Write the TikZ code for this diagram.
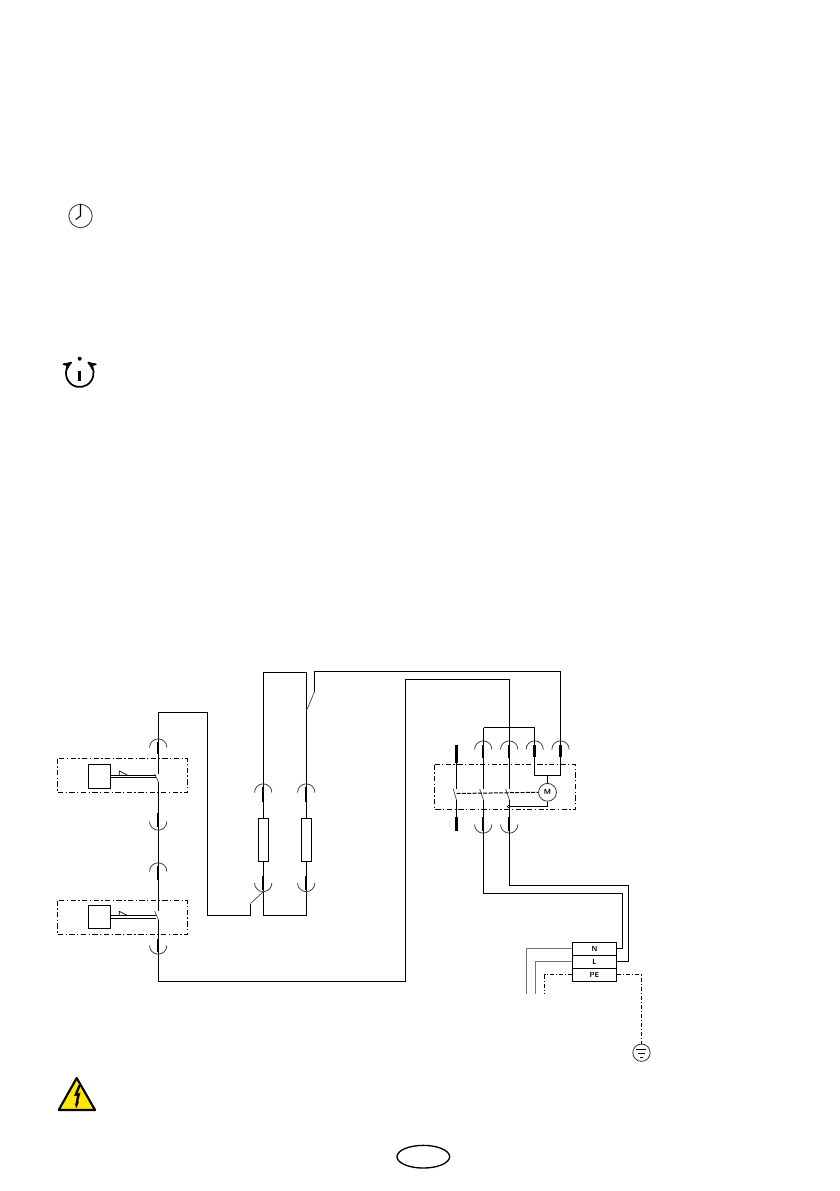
\documentclass[tikz,border=0pt]{standalone}
\usepackage{tikz}
\usetikzlibrary{arrows,shapes.geometric}
\begin{document}
\begin{tikzpicture}[x=0.75pt,y=-0.75pt,line join=miter,
	wire/.style={draw,line width=0.85pt},
	grey wire/.style={draw,line width=0.85pt,black!55},
	thin wire/.style={draw,line width=0.55pt,black!70},
	plug arc/.style={draw,line width=0.6pt,black!75},
	plug bar/.style={draw,line width=1.85pt},
	wide bar/.style={draw,line width=2.4pt},
	dash box/.style={draw,line width=0.8pt,dash pattern=on 4pt off 1.8pt on 1pt off 1.8pt},
	relay node/.style={draw,line width=0.8pt,inner sep=0pt,minimum width=16.8pt,minimum height=17.8pt},
	fuse node/.style={draw,line width=0.8pt,inner sep=0pt,minimum width=7.8pt,minimum height=32.2pt},
	term node/.style={draw,line width=0.8pt,inner sep=0pt,minimum width=33.3pt,minimum height=9.75pt,font=\fontsize{5.5}{5.5}\sffamily\bfseries},
	round node/.style={circle,draw,inner sep=0pt}]
	
	\useasboundingbox (0,0) rectangle (839,1191);
	
	% symbols beside the text
	\node[round node,line width=0.65pt,black!75,minimum size=17.5pt] (clock) at (80.5,216) {};
	\draw[line width=0.8pt] (80.5,204) -- (clock.center) -- (75.7,219.5);
	
	\coordinate (reset) at (79.7,373.3);
	\draw[line width=1.3pt,stealth'-stealth'] (reset) ++(55:10.3pt) arc[start angle=55,end angle=-235,radius=10.3pt];
	\draw[line width=1.9pt] (79.7,370.5) -- (79.7,381);
	\fill (79.7,358.7) circle (1.5pt);
	
	% left column with the two relays
	\coordinate (a1) at (158.5,712.5);
	\coordinate (a2) at (207.5,712.5);
	\coordinate (a3) at (207.5,915.5);
	\coordinate (a4) at (250.5,915.5);
	\coordinate (a5) at (250.5,903.5);
	\coordinate (a6) at (263.5,891.5);
	\coordinate (k1top) at (158.5,774);
	\coordinate (k1bot) at (158.5,782.3);
	\coordinate (k2top) at (158.5,911);
	\coordinate (k2bot) at (158.5,920);
	\coordinate (a7) at (158.5,981.5);
	\coordinate (a8) at (405.5,981.5);
	\coordinate (a9) at (405.5,679.5);
	\coordinate (a10) at (509.5,679.5);
	
	\draw[wire] (k1top) -- (a1) -- (a2) -- (a3) -- (a4) -- (a5);
	\draw[thin wire] (a5) -- (a6);
	\draw[wire] (k1bot) -- (k2top);
	\draw[wire] (k2bot) -- (a7) -- (a8) -- (a9) -- (a10);
	\draw[thin wire] (154.7,774) -- (k1bot);
	\draw[thin wire] (154.7,911) -- (k2bot);
	
	\draw[dash box] (57.5,758.5) rectangle (187.5,792.5);
	\draw[dash box] (57.5,900.5) rectangle (187.5,934.5);
	
	\node[relay node] (r1) at (99.5,776.5) {};
	\node[relay node] (r2) at (99.5,917) {};
	\draw[line width=0.55pt] (r1.east |- 0,775.3) -- (156,775.3);
	\draw[line width=0.55pt] (r1.east |- 0,777.5) -- (156,777.5);
	\draw[line width=0.55pt] (r2.east |- 0,915.7) -- (156,915.7);
	\draw[line width=0.55pt] (r2.east |- 0,918) -- (156,918);
	\draw[line width=0.5pt] (119.3,775) -- (119.3,771) -- (127.3,775);
	\draw[line width=0.5pt] (119.3,915.5) -- (119.3,911.3) -- (127.3,915.5);
	
	% the two fuses
	\node[fuse node] (f1) at (263.5,839.8) {};
	\node[fuse node] (f2) [right of=f1,node distance=32.25pt] {};
	
	\coordinate (b1) at (263.5,672.5);
	\coordinate (b2) at (306.5,672.5);
	\coordinate (b3) at (306.5,710.7);
	\coordinate (b4) at (314.5,691.7);
	\coordinate (b5) at (314.5,671.5);
	\coordinate (b6) at (560.5,671.5);
	\coordinate (b7) at (263.5,915.5);
	\coordinate (b8) at (306.5,915.5);
	
	\draw[wire] (f1.north) -- (b1) -- (b2) -- (f2.north);
	\draw[wire] (f1.south) -- (b7) -- (b8) -- (f2.south);
	\draw[thin wire] (b3) -- (b4);
	\draw[wire] (b4) -- (b5) -- (b6) -- (560.5,775.5);
	
	% plugs, opening downwards: x / arc centre / bar from / bar to
	\foreach \x/\y/\p/\q in {158.2/747.5/741.7/754,158.2/871.5/865.7/880,263.2/792.5/787.3/801.7,306.2/792.5/787.3/801.7,
		483.2/749.5/745/758.3,509.2/749.5/745/758.3}{
		\draw[plug arc] (\x,\y) ++(180:6.5pt) arc[start angle=180,end angle=0,radius=6.5pt];
		\draw[plug bar] (\x,\p) -- (\x,\q);
	}
	\foreach \x in {534.7,560.5}{
		\draw[plug arc] (\x,749.5) ++(180:6.5pt) arc[start angle=180,end angle=0,radius=6.5pt];
		\draw[wide bar] (\x,745) -- (\x,757.3);
	}
	% plugs, opening upwards
	\foreach \x/\y/\p/\q in {158.2/821.5/813.3/826.7,158.2/945.5/939.3/952.3,263.2/883/875.7/890,306.2/883/875.7/890,
		483.2/824.5/816.7/830.7,509.2/824.5/816.7/830.7}{
		\draw[plug arc] (\x,\y) ++(180:6.5pt) arc[start angle=180,end angle=360,radius=6.5pt];
		\draw[plug bar] (\x,\p) -- (\x,\q);
	}
	
	% right group with the motor
	\draw[dash box] (434.5,764.5) rectangle (575.5,809.5);
	\node[round node,line width=0.6pt,black!80,minimum size=13.4pt,text=black,font=\fontsize{5.5}{5.5}\sffamily\bfseries] (motor) at (547.5,792.3) {M};
	
	\coordinate (c1) at (456.5,789);
	\coordinate (c2) at (483.5,789);
	\coordinate (c3) at (509.5,789);
	\coordinate (d1) at (456.5,800);
	\coordinate (d2) at (483.5,800);
	\coordinate (d3) at (509.5,800);
	\coordinate (e2) at (483.5,893.5);
	\coordinate (e3) at (509.5,885.5);
	\coordinate (g2) at (622.5,893.5);
	\coordinate (g3) at (628.5,885.5);
	
	\draw[wire] (a10) -- (c3);
	\draw[wire] (483.5,727.5) -- (534.5,727.5);
	\draw[wire] (483.5,727.5) -- (c2);
	\draw[wire] (534.5,727.5) -- (534.5,775.5) -- (560.5,775.5);
	\draw[wire] (547.5,775.5) -- (motor.north);
	\draw[wire] (456.5,748) -- (c1);
	\draw[plug bar] (456.5,745) -- (456.5,763);
	\draw[thin wire] (453.3,789) -- (d1);
	\draw[wire] (d1) -- (456.5,825);
	\draw[plug bar] (456.5,816.7) -- (456.5,830.7);
	\draw[thin wire] (479.7,789) -- (d2);
	\draw[wire] (d2) -- (e2) -- (g2);
	\draw[thin wire] (505.7,789) -- (d3);
	\draw[wire] (d3) -- (e3) -- (g3);
	\draw[line width=0.75pt,dash pattern=on 3pt off 1pt] (456.5,793.5) -- (motor.west);
	\draw[wire] (motor.south) -- (547.5,806.5) -- (509.5,806.5);
	\draw[line width=0.4pt,fill=white] (508.5,806.5) circle (1pt);
	
	% terminal block
	\node[term node] (N) at (594.5,948.8) {N};
	\node[term node] (L) [below of=N,node distance=9.75pt] {L};
	\node[term node] (PE) [below of=L,node distance=9.75pt] {PE};
	
	\draw[wire] (g2) -- (622.5,948.8) -- (N.east);
	\draw[wire] (g3) -- (628.5,961.8) -- (L.east);
	\draw[grey wire] (N.west) -- (526.5,948.8) -- (526.5,994.3);
	\draw[grey wire] (L.west) -- (535.5,961.8) -- (535.5,994.3);
	\draw[wire,dash pattern=on 3pt off 1.5pt on 0.8pt off 1.5pt] (PE.west) -- (544.5,974.8) -- (544.5,994.3);
	
	\node[round node,line width=0.6pt,black!80,minimum size=13pt] (earth) at (641.5,1052.7) {};
	\draw[wire,dash pattern=on 3pt off 1.5pt on 0.8pt off 1.5pt] (PE.east) -- (641.5,974.8) -- (earth.north);
	\draw[line width=0.5pt] (636.3,1049.3) -- (646.3,1049.3);
	\draw[line width=0.5pt] (637.8,1053.3) -- (644.8,1053.3);
	\draw[line width=0.5pt] (639.8,1057) -- (642.8,1057);
	
	% warning sign
	\draw[line width=1.6pt,line join=round,fill=yellow!90!orange] (76.7,1078) -- (95,1110) -- (58.7,1110) -- cycle;
	\fill (78.5,1085) -- (74,1096) -- (77,1095.5) -- (75.5,1104) -- (74.5,1103.5) -- (76.5,1108) -- (79,1101.5) -- (78,1102) -- (80.5,1092.5) -- (77.5,1093.5) -- (81,1085) -- cycle;
	
	% page mark
	\node[ellipse,draw,line width=1pt,inner sep=0pt,minimum width=39.5pt,minimum height=17pt] (mark) at (423.3,1156.7) {};
	
\end{tikzpicture}
\end{document}
